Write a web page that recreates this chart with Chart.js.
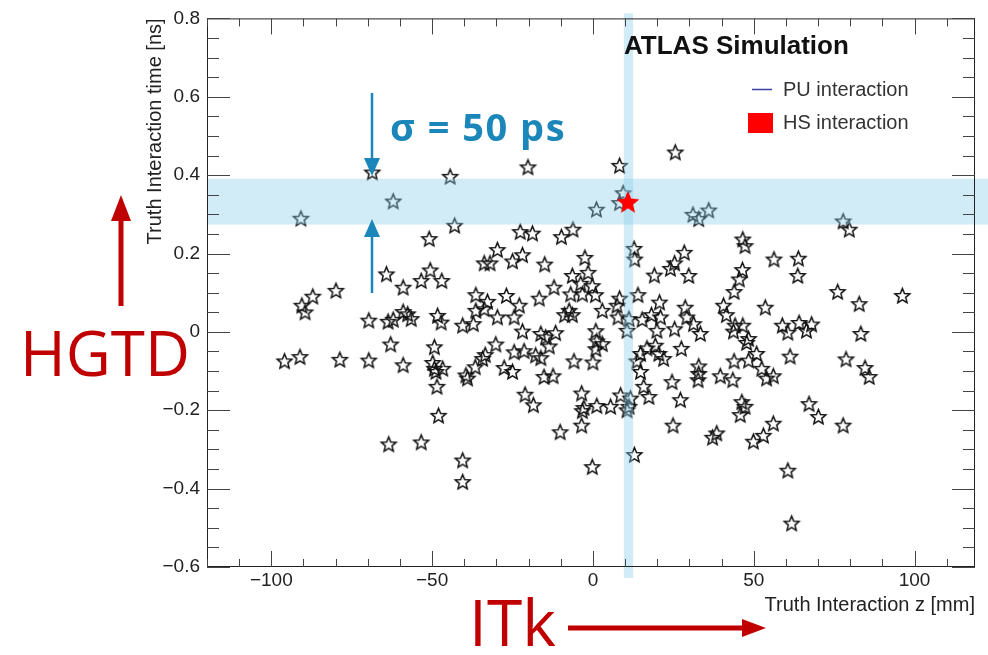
<!DOCTYPE html>
<html>
<head>
<meta charset="utf-8">
<script src="https://cdn.jsdelivr.net/npm/chart.js@4.4.1/dist/chart.umd.min.js"></script>
<style>
  html, body { margin: 0; padding: 0; background: #fff; }
  #wrap { width: 988px; height: 655px; }
</style>
</head>
<body>
<div id="wrap"><canvas id="vtx" width="988" height="655"></canvas></div>
<script>
// pile-up vertices: z [mm] and time [ns]
const puZ = [
  -68.6, -90.8, -62.1, -64.2, -44.4, -20.2, -43.0, 1.1, 8.3, 25.6,
  9.4, 8.3, 31.1, 32.9, 36.0, 12.8, 13.0, 28.4, 25.4, 24.1,
  19.1, 29.8, 46.6, 47.3, 56.3, 46.5, 45.5, 77.8, 79.7, 63.9,
  63.7, -50.9, -22.6, -18.8, -9.8, -6.2, -29.7, -21.9, -25.0, -33.8,
  -32.0, -15.0, -2.5, -50.6, -47.0, -53.4, -6.4, -1.5, -3.8, -59.0,
  -87.1, -79.9, -90.5, -89.5, -69.7, -63.7, -62.1, -59.0, -62.9, -95.9,
  -91.1, -78.7, -69.7, -59.0, -36.4, -32.8, -26.9, -16.7, -12.1, -6.9,
  -3.3, -0.2, 0.8, -56.5, -57.6, -48.3, -47.2, -36.4, -33.8, -22.9,
  -24.5, -29.7, -40.5, -37.2, -21.9, -8.8, -6.4, -7.4, -16.2, -11.6,
  -14.7, -13.6, 0.9, 1.2, -49.3, -30.2, -24.5, -21.4, -17.8, -16.2,
  -33.5, -34.3, 0.9, -49.8, -49.3, -46.7, -48.8, -36.6, -39.5, -39.0,
  -27.6, -25.0, -15.2, -12.4, -5.9, 0.0, -48.5, -21.1, -18.5, -3.5,
  -2.8, 1.2, 43.9, 14.0, 8.3, 7.5, 20.7, 28.7, 40.6, 41.5,
  53.6, 2.9, 7.8, 11.2, 15.3, 18.2, 21.0, 29.2, 31.3, 33.4,
  10.6, 19.9, 25.4, 2.9, 44.2, 46.6, 43.7, 48.4, 47.8, 58.9,
  60.6, 27.5, 16.8, 19.4, 20.5, 22.0, 14.8, 13.7, 14.8, 15.8,
  17.4, 8.6, 11.7, 11.2, 5.5, 24.6, 27.2, 32.9, 32.9, 32.7,
  39.6, 43.5, 43.9, 48.4, 50.9, 52.5, 54.0, 56.1, 46.3, 47.3,
  76.1, 82.8, 96.2, 64.1, 66.4, 68.0, 83.3, 61.3, 78.7, 84.6,
  85.9, 67.2, -63.5, -48.0, -53.4, -40.5, -40.5, -3.3, -3.5, -10.2,
  -0.2, 10.6, 45.8, 24.9, 38.5, 37.2, 56.1, 49.9, 53.0, 12.9,
  60.6, 61.8, 70.1, 77.8
];
const puT = [
  0.408, 0.290, 0.334, 0.148, 0.397, 0.421, 0.272, 0.313, 0.425, 0.459,
  0.355, 0.330, 0.300, 0.289, 0.311, 0.213, 0.186, 0.203, 0.176, 0.162,
  0.145, 0.144, 0.237, 0.220, 0.186, 0.159, 0.135, 0.283, 0.262, 0.188,
  0.144, 0.238, 0.256, 0.252, 0.243, 0.262, 0.210, 0.197, 0.181, 0.176,
  0.176, 0.173, 0.190, 0.158, 0.131, 0.131, 0.144, 0.152, 0.124, 0.114,
  0.091, 0.106, 0.068, 0.051, 0.030, 0.027, 0.032, 0.052, -0.031, -0.074,
  -0.063, -0.070, -0.072, -0.084, 0.095, 0.078, 0.093, 0.086, 0.114, 0.097,
  0.097, 0.118, 0.095, 0.034, 0.046, 0.042, 0.025, 0.055, 0.059, 0.068,
  0.038, 0.038, 0.017, 0.021, 0.002, 0.044, 0.044, 0.055, -0.004, -0.002,
  -0.013, -0.036, 0.003, -0.023, -0.038, -0.031, -0.051, -0.048, -0.059, -0.066,
  -0.058, -0.068, -0.043, -0.078, -0.093, -0.093, -0.101, -0.089, -0.110, -0.118,
  -0.091, -0.101, -0.114, -0.112, -0.074, -0.077, -0.139, -0.159, -0.186, -0.156,
  -0.193, -0.188, 0.103, 0.095, 0.086, 0.068, 0.076, 0.063, 0.068, 0.044,
  0.063, 0.055, 0.038, 0.034, 0.032, 0.044, 0.038, 0.038, 0.021, -0.004,
  0.004, 0.004, 0.008, -0.030, 0.017, 0.017, 0.002, -0.017, -0.027, 0.017,
  -0.001, -0.042, -0.041, -0.034, -0.055, -0.068, -0.055, -0.074, -0.101, -0.139,
  -0.165, -0.161, -0.169, -0.190, -0.190, -0.127, -0.173, -0.087, -0.106, -0.122,
  -0.112, -0.122, -0.074, -0.072, -0.055, -0.093, -0.118, -0.112, -0.178, -0.190,
  0.103, 0.072, 0.093, 0.024, 0.004, 0.020, -0.004, -0.062, -0.069, -0.091,
  -0.114, -0.183, -0.286, -0.213, -0.281, -0.327, -0.382, -0.201, -0.238, -0.255,
  -0.344, -0.199, -0.211, -0.238, -0.258, -0.269, -0.233, -0.279, -0.264, -0.313,
  -0.353, -0.488, -0.216, -0.238
];
// hard-scatter vertex
const hsZ = [10.9];
const hsT = [0.332];

// axis ticks
const zTicks = [-100, -50, 0, 50, 100];
const tTicks = [-0.6, -0.4, -0.2, 0, 0.2, 0.4, 0.6, 0.8];

// resolution bands around the HS vertex
const bandT = [0.274, 0.391];
const bandZ = [9.6, 12.5];

const blue = '#1a86b9';
const red = '#c00000';
const sans = '"Liberation Sans", Arial, sans-serif';

function starCanvas(r, inner, fill, stroke, lw) {
  const s = Math.ceil(r * 2 + lw * 2 + 2);
  const c = document.createElement('canvas');
  c.width = s; c.height = s;
  const g = c.getContext('2d');
  g.beginPath();
  for (let i = 0; i < 10; i++) {
    const rad = i % 2 ? r * inner : r;
    const a = -Math.PI / 2 + i * Math.PI / 5;
    const px = s / 2 + rad * Math.cos(a), py = s / 2 + rad * Math.sin(a) + r * 0.1;
    if (i) g.lineTo(px, py); else g.moveTo(px, py);
  }
  g.closePath();
  if (fill) { g.fillStyle = fill; g.fill(); }
  if (stroke) { g.strokeStyle = stroke; g.lineWidth = lw; g.lineJoin = 'miter'; g.stroke(); }
  return c;
}
const openStar = starCanvas(7.8, 0.45, null, '#111', 1.5);
const redStar = starCanvas(12, 0.45, '#ff0000', null, 0);

function fmtZ(v) { return v === 0 ? '0' : String(v).replace('-', '\u2212'); }
function fmtT(v) { return v === 0 ? '0' : v.toFixed(1).replace('-', '\u2212'); }

function arrow(ctx, x1, y1, x2, y2, w, headL, headW, col) {
  const ang = Math.atan2(y2 - y1, x2 - x1);
  const bx = x2 - headL * Math.cos(ang), by = y2 - headL * Math.sin(ang);
  ctx.save();
  ctx.strokeStyle = col; ctx.fillStyle = col; ctx.lineWidth = w;
  ctx.beginPath(); ctx.moveTo(x1, y1); ctx.lineTo(bx, by); ctx.stroke();
  ctx.beginPath();
  ctx.moveTo(x2, y2);
  ctx.lineTo(bx + headW / 2 * Math.sin(ang), by - headW / 2 * Math.cos(ang));
  ctx.lineTo(bx - headW / 2 * Math.sin(ang), by + headW / 2 * Math.cos(ang));
  ctx.closePath(); ctx.fill();
  ctx.restore();
}

const rootFrame = {
  id: 'rootFrame',
  beforeDraw(chart) {
    const ctx = chart.ctx;
    ctx.save(); ctx.fillStyle = '#fff'; ctx.fillRect(0, 0, chart.width, chart.height); ctx.restore();
  },
  // bands go over the PU stars but under the HS star
  afterDatasetDraw(chart, args) {
    if (args.index !== 1) return;
    const ctx = chart.ctx, a = chart.chartArea;
    const xs = chart.scales.x, ys = chart.scales.y;
    ctx.save();
    ctx.fillStyle = 'rgba(135, 206, 235, 0.38)';
    const y1 = ys.getPixelForValue(bandT[1]), y2 = ys.getPixelForValue(bandT[0]);
    ctx.fillRect(a.left, y1, chart.width - a.left, y2 - y1);
    const x1 = xs.getPixelForValue(bandZ[0]), x2 = xs.getPixelForValue(bandZ[1]);
    ctx.fillRect(x1, a.top - 5, x2 - x1, a.bottom - a.top + 16);
    ctx.restore();
  },
  afterDraw(chart) {
    const ctx = chart.ctx, a = chart.chartArea;
    const xs = chart.scales.x, ys = chart.scales.y;
    ctx.save();
    // frame
    ctx.strokeStyle = '#222'; ctx.lineWidth = 1;
    ctx.strokeRect(a.left + 0.5, a.top + 0.5, a.right - a.left - 1, a.bottom - a.top - 1);
    // ticks inside the frame
    ctx.strokeStyle = '#444';
    ctx.beginPath();
    for (let v = -120; v <= 120; v += 10) {
      const px = Math.round(xs.getPixelForValue(v)) + 0.5;
      if (px < a.left || px > a.right) continue;
      const len = v % 50 === 0 ? 16 : 8;
      ctx.moveTo(px, a.bottom); ctx.lineTo(px, a.bottom - len);
      ctx.moveTo(px, a.top); ctx.lineTo(px, a.top + len);
    }
    for (let k = -12; k <= 16; k++) {
      const v = k * 0.05;
      const py = Math.round(ys.getPixelForValue(v)) + 0.5;
      if (py < a.top - 1 || py > a.bottom + 1) continue;
      const len = k % 4 === 0 ? 23 : 12;
      ctx.moveTo(a.left, py); ctx.lineTo(a.left + len, py);
      ctx.moveTo(a.right, py); ctx.lineTo(a.right - len, py);
    }
    ctx.stroke();

    // ATLAS label
    ctx.fillStyle = '#111';
    ctx.font = 'bold 26px ' + sans;
    ctx.textBaseline = 'middle'; ctx.textAlign = 'left';
    ctx.fillText('ATLAS Simulation', 624, 47);

    // legend
    ctx.strokeStyle = '#3b3fa0'; ctx.lineWidth = 1.5;
    ctx.beginPath(); ctx.moveTo(752, 89.5); ctx.lineTo(772, 89.5); ctx.stroke();
    ctx.fillStyle = '#ff0000';
    ctx.fillRect(748, 113, 25, 20);
    ctx.fillStyle = '#333';
    ctx.font = '20px ' + sans;
    ctx.fillText('PU interaction', 783, 90);
    ctx.fillText('HS interaction', 783, 123);

    // sigma annotation
    arrow(ctx, 372, 93, 372, 176, 2.5, 18, 16, blue);
    arrow(ctx, 372, 293, 372, 219, 2.5, 18, 16, blue);
    ctx.fillStyle = blue;
    ctx.font = 'bold 38px "Open Sans", "Noto Sans", sans-serif';
    ctx.letterSpacing = '1.5px';
    ctx.fillText('\u03c3 = 50 ps', 390, 130);
    ctx.letterSpacing = '0px';

    // detector labels
    ctx.fillStyle = red;
    ctx.font = '62px "Open Sans", "Noto Sans", sans-serif';
    ctx.fillText('HGTD', 20, 358);
    ctx.font = '64px "Open Sans", "Noto Sans", sans-serif';
    ctx.fillText('ITk', 469, 628);
    arrow(ctx, 121, 306, 121, 195, 5, 26, 20, red);
    arrow(ctx, 568, 628, 766, 628, 5, 24, 18, red);
    ctx.restore();
  }
};

new Chart(document.getElementById('vtx'), {
  type: 'scatter',
  data: {
    datasets: [
      {
        label: 'HS interaction',
        data: hsZ.map((z, i) => ({ x: z, y: hsT[i] })),
        pointStyle: redStar,
        pointRadius: 12
      },
      {
        label: 'PU interaction',
        data: puZ.map((z, i) => ({ x: z, y: puT[i] })),
        pointStyle: openStar,
        pointRadius: 8
      }
    ]
  },
  options: {
    responsive: false,
    animation: false,
    events: [],
    layout: { padding: { top: 15, right: 11, left: 0, bottom: 0 } },
    plugins: { legend: { display: false }, tooltip: { enabled: false } },
    scales: {
      x: {
        type: 'linear', min: -120, max: 118.8,
        afterBuildTicks: s => { s.ticks = zTicks.map(v => ({ value: v })); },
        afterFit: s => { s.height = 88; },
        grid: { display: false, drawTicks: false },
        border: { display: false },
        ticks: {
          padding: 2, color: '#222', autoSkip: false, maxRotation: 0,
          font: { family: sans, size: 19 },
          callback: v => fmtZ(v)
        },
        title: {
          display: true, text: 'Truth Interaction z [mm]', align: 'end', color: '#222',
          font: { family: sans, size: 20 },
          padding: { top: 0, bottom: 38 }
        }
      },
      y: {
        type: 'linear', min: -0.6, max: 0.8,
        afterBuildTicks: s => { s.ticks = tTicks.map(v => ({ value: v })); },
        afterFit: s => { s.width = 207; },
        grid: { display: false, drawTicks: false },
        border: { display: false },
        ticks: {
          padding: 7, color: '#222', autoSkip: false,
          font: { family: sans, size: 19 },
          callback: v => fmtT(v)
        },
        title: {
          display: true, text: 'Truth Interaction time [ns]', align: 'end', color: '#222',
          font: { family: sans, size: 20 },
          padding: { top: 143, bottom: 0 }
        }
      }
    }
  },
  plugins: [rootFrame]
});
</script>
</body>
</html>
